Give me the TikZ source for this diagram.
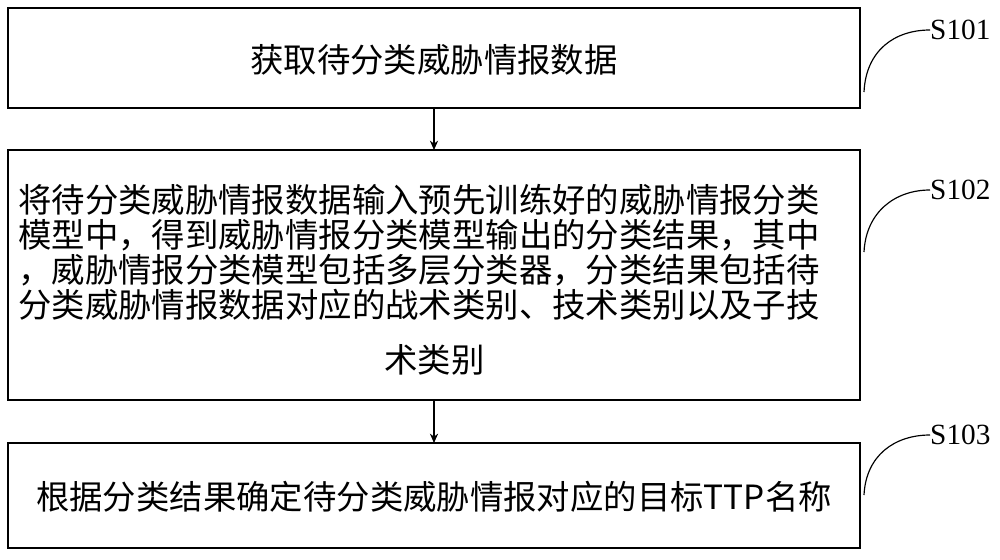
\documentclass[tikz,border=0pt]{standalone}
\usepackage{fontspec}
\usetikzlibrary{arrows.meta}
\setmainfont{Liberation Serif}
\newfontfamily\cjk{Noto Sans CJK SC}
\begin{document}
\begin{tikzpicture}[x=0.03cm,y=-0.03cm,
  boxst/.style={draw,line width=1pt,inner sep=0pt},
  txt/.style={font=\cjk\fontsize{28.5}{30}\selectfont,inner sep=0pt},
  ln/.style={txt,anchor=west},
  lab/.style={font=\fontsize{25}{28}\selectfont,anchor=west,inner sep=0pt},
  arr/.style={-{Stealth[length=8pt,width=7pt]},line width=1pt},
  crv/.style={line width=1pt}]
\useasboundingbox (0,0) rectangle (1000,560);
\draw[boxst] (8,8) rectangle (860,108);
\draw[boxst] (8,150) rectangle (860,400);
\draw[boxst] (8,443) rectangle (860,548);
\node[txt] (t1) at (434,60) {获取待分类威胁情报数据};
\node[ln] (l1) at (18,200) {将待分类威胁情报数据输入预先训练好的威胁情报分类};
\node[ln] (l2) at (18,235) {模型中，得到威胁情报分类模型输出的分类结果，其中};
\node[ln] (l3) at (18,270) {，威胁情报分类模型包括多层分类器，分类结果包括待};
\node[ln] (l4) at (18,305) {分类威胁情报数据对应的战术类别、技术类别以及子技};
\node[ln] (l5) at (384,360) {术类别};
\node[txt] (t3) at (434,497) {根据分类结果确定待分类威胁情报对应的目标TTP名称};
\coordinate (a1) at (434,108); \coordinate (b1) at (434,150);
\coordinate (a2) at (434,400); \coordinate (b2) at (434,443);
\draw[arr] (a1) -- (b1);
\draw[arr] (a2) -- (b2);
\node[lab] (s1) at (930,30) {S101};
\node[lab] (s2) at (930,190) {S102};
\node[lab] (s3) at (930,435) {S103};
\coordinate (c1) at (864,92); \coordinate (c2) at (864,252); \coordinate (c3) at (864,495);
\draw[crv] (c1) .. controls (866,50) and (895,30) .. (s1.west);
\draw[crv] (c2) .. controls (866,212) and (895,190) .. (s2.west);
\draw[crv] (c3) .. controls (866,455) and (895,435) .. (s3.west);
\end{tikzpicture}
\end{document}
